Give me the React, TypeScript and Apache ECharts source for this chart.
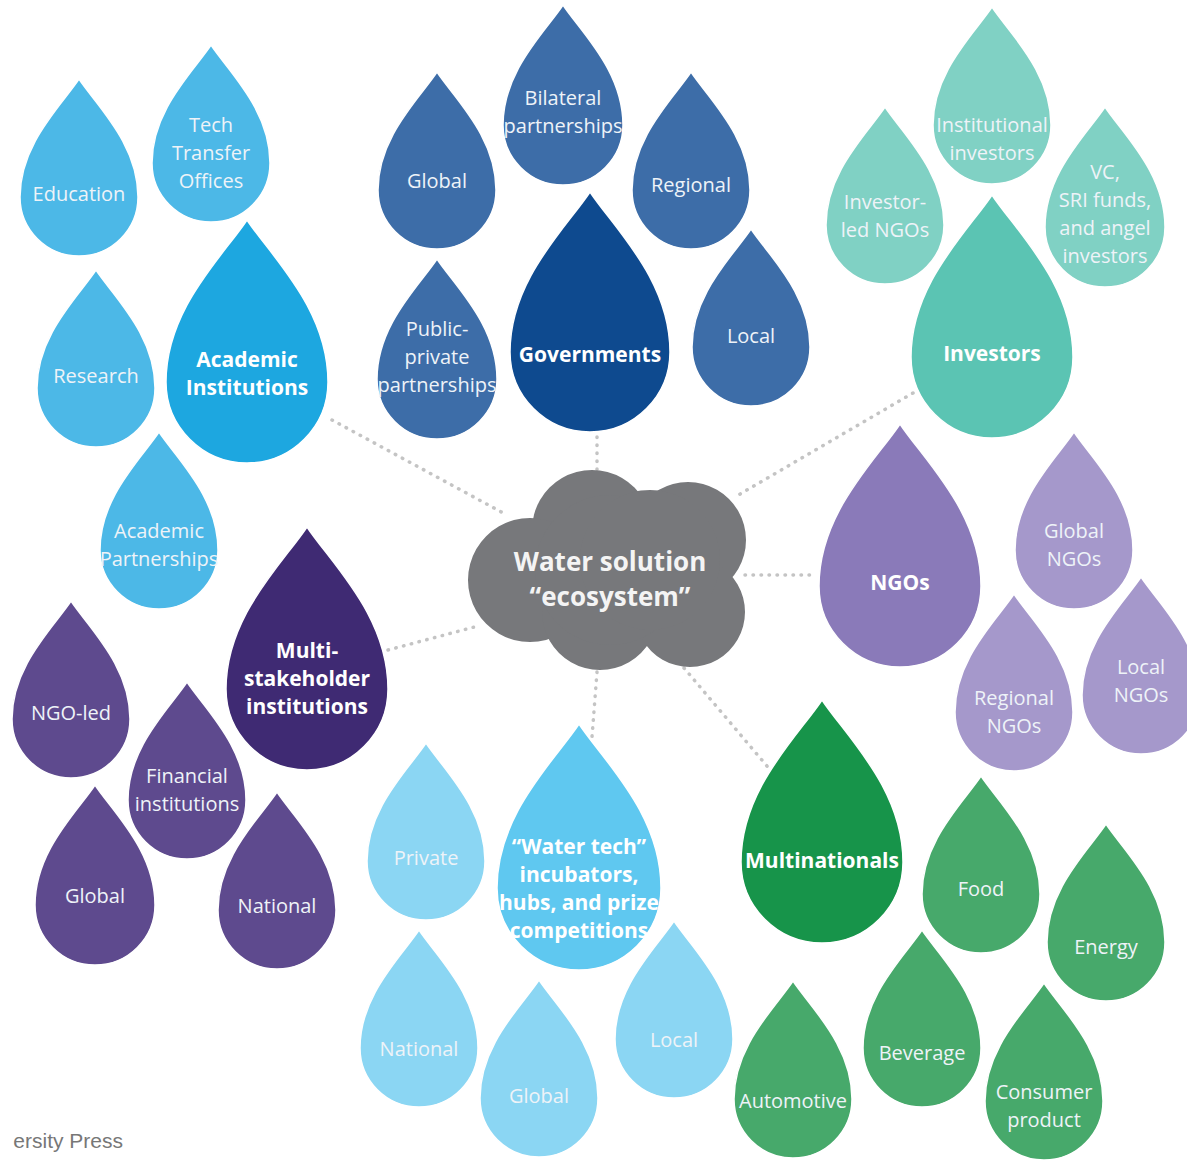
import React, { useEffect, useRef } from "react";
import * as echarts from "echarts";

// ---- data ----
const dropLabels = [
  "Tech\nTransfer\nOffices", "Education", "Research", "Academic\nPartnerships", "Academic\nInstitutions",
  "Global", "Bilateral\npartnerships", "Regional", "Public-\nprivate\npartnerships", "Local", "Governments",
  "Institutional\ninvestors", "Investor-\nled NGOs", "VC,\nSRI funds,\nand angel\ninvestors", "Investors",
  "Global\nNGOs", "Regional\nNGOs", "Local\nNGOs", "NGOs",
  "NGO-led", "Financial\ninstitutions", "Global", "National", "Multi-\nstakeholder\ninstitutions",
  "Private", "National", "Global", "Local", "\u201cWater tech\u201d\nincubators,\nhubs, and prize\ncompetitions",
  "Food", "Energy", "Beverage", "Automotive", "Consumer\nproduct", "Multinationals",
];
const dropX = [211, 79, 96, 159, 247, 437, 563, 691, 437, 751, 590, 992, 885, 1105, 992, 1074, 1014, 1141, 900, 71, 187, 95, 277, 307, 426, 419, 539, 674, 579, 981, 1106, 922, 793, 1044, 822];
const dropY = [163, 197, 388, 550, 382, 190, 125, 190, 379, 347, 352, 125, 225, 227, 357, 550, 712, 695, 586, 719, 800, 905, 910, 689, 861, 1048, 1098, 1039, 888, 894, 942, 1048, 1099, 1101, 862];
const dropR = [59, 59, 59, 59, 81, 59, 60, 59, 60, 59, 80, 59, 59, 60, 81, 59, 59, 59, 81, 59, 59, 60, 59, 81, 59, 59, 59, 59, 82, 59, 59, 59, 59, 59, 81];
const labelY = [152, 193, 375, 544, 373, 180, 111, 184, 356, 335, 354, 138, 215, 213, 353, 544, 711, 680, 582, 712, 789, 895, 905, 678, 857, 1048, 1095, 1039, 888, 888, 946, 1052, 1100, 1105, 860];
const dropGroup = [0, 0, 0, 0, 0, 1, 1, 1, 1, 1, 1, 2, 2, 2, 2, 3, 3, 3, 3, 4, 4, 4, 4, 4, 5, 5, 5, 5, 5, 6, 6, 6, 6, 6, 6];
const dropMain = [0, 0, 0, 0, 1, 0, 0, 0, 0, 0, 1, 0, 0, 0, 1, 0, 0, 0, 1, 0, 0, 0, 0, 1, 0, 0, 0, 0, 1, 0, 0, 0, 0, 0, 1];

const groupSubColors = ["#4cb8e7", "#3d6da8", "#80d1c4", "#a598cb", "#5e4a8e", "#8bd6f3", "#47a96b"];
const groupMainColors = ["#1da7e0", "#0e4a8f", "#5bc4b3", "#8a7ab9", "#3f2a73", "#5fc8f0", "#17944a"];

// connectors: [x1, y1, x2, y2]
const connectors = [
  [332, 420, 505, 514],
  [597, 437, 597, 470],
  [913, 393, 735, 497],
  [745, 575, 816, 575],
  [388, 650, 478, 626],
  [597, 672, 592, 737],
  [684, 668, 772, 772],
];

// cloud puffs: [cx, cy, r]
const cloudPuffs = [
  [592, 530, 60],
  [688, 540, 58],
  [530, 580, 62],
  [600, 612, 58],
  [690, 612, 55],
  [610, 570, 75],
  [650, 560, 70],
];

const centerLabel = "Water solution\n\u201cecosystem\u201d";
const footerText = "ersity Press";

const DROP_PATH =
  "M0 -2 C0.3 -1.55 1 -0.9 1 0 C1 0.552 0.552 1 0 1 C-0.552 1 -1 0.552 -1 0 C-1 -0.9 -0.3 -1.55 0 -2 Z";

const FONT = '"Open Sans", "Noto Sans", sans-serif';

export default function App() {
  const ref = useRef<HTMLDivElement>(null);
  useEffect(() => {
    document.body.style.margin = "0";
    const chart = echarts.init(ref.current!, null, { renderer: "svg" });
    const dropData = dropLabels.map((l, i) => [dropX[i], dropY[i], dropR[i], labelY[i], i]);
    chart.setOption({
      animation: false,
      backgroundColor: "#ffffff",
      grid: { left: 0, right: 0, top: 0, bottom: 0 },
      xAxis: { type: "value", min: 0, max: 1187, show: false },
      yAxis: { type: "value", min: 0, max: 1160, inverse: true, show: false },
      series: [
        {
          type: "custom",
          name: "connectors",
          coordinateSystem: "cartesian2d",
          clip: false,
          z: 1,
          data: connectors,
          renderItem: (params: any, api: any) => {
            const p1 = api.coord([api.value(0), api.value(1)]);
            const p2 = api.coord([api.value(2), api.value(3)]);
            return {
              type: "line",
              shape: { x1: p1[0], y1: p1[1], x2: p2[0], y2: p2[1] },
              style: { stroke: "#c4c4c4", lineWidth: 3.5, lineDash: [0.5, 7.5], lineCap: "round" },
            };
          },
        },
        {
          type: "custom",
          name: "cloud",
          coordinateSystem: "cartesian2d",
          clip: false,
          z: 2,
          data: cloudPuffs,
          renderItem: (params: any, api: any) => {
            const c = api.coord([api.value(0), api.value(1)]);
            const s = api.size([api.value(2), api.value(2)]);
            return {
              type: "circle",
              shape: { cx: c[0], cy: c[1], r: Math.abs(s[0]) },
              style: { fill: "#77787b" },
            };
          },
        },
        {
          type: "custom",
          name: "drops",
          coordinateSystem: "cartesian2d",
          clip: false,
          z: 3,
          data: dropData,
          renderItem: (params: any, api: any) => {
            const i = params.dataIndex;
            const c = api.coord([api.value(0), api.value(1)]);
            const s = api.size([api.value(2), api.value(2)]);
            const r = Math.abs(s[0]);
            const ly = api.coord([api.value(0), api.value(3)])[1];
            const main = dropMain[i] === 1;
            const g = dropGroup[i];
            return {
              type: "group",
              children: [
                {
                  type: "path",
                  shape: { pathData: DROP_PATH, x: c[0] - r, y: c[1] - 2 * r, width: 2 * r, height: 3 * r, layout: "cover" },
                  style: { fill: main ? groupMainColors[g] : groupSubColors[g], stroke: "#ffffff", lineWidth: 1.5 },
                },
                {
                  type: "text",
                  style: {
                    text: dropLabels[i],
                    x: c[0],
                    y: ly,
                    align: "center",
                    verticalAlign: "middle",
                    fill: main ? "#ffffff" : "#eef3f8",
                    fontFamily: FONT,
                    fontSize: main ? 21 : 20,
                    fontWeight: main ? "bold" : "normal",
                    lineHeight: 28,
                  },
                },
              ],
            };
          },
        },
      ],
      graphic: [
        {
          type: "text",
          z: 10,
          style: {
            text: centerLabel,
            x: 610,
            y: 578,
            align: "center",
            verticalAlign: "middle",
            fill: "#f4f4f4",
            fontFamily: FONT,
            fontSize: 26,
            fontWeight: "bold",
            lineHeight: 35,
          },
        },
        {
          type: "text",
          z: 10,
          style: {
            text: footerText,
            x: 123,
            y: 1140,
            align: "right",
            verticalAlign: "middle",
            fill: "#777777",
            fontFamily: '"Liberation Sans", Arial, sans-serif',
            fontSize: 21,
          },
        },
      ],
    });
    return () => chart.dispose();
  }, []);
  return <div ref={ref} style={{ width: 1187, height: 1160 }} />;
}
